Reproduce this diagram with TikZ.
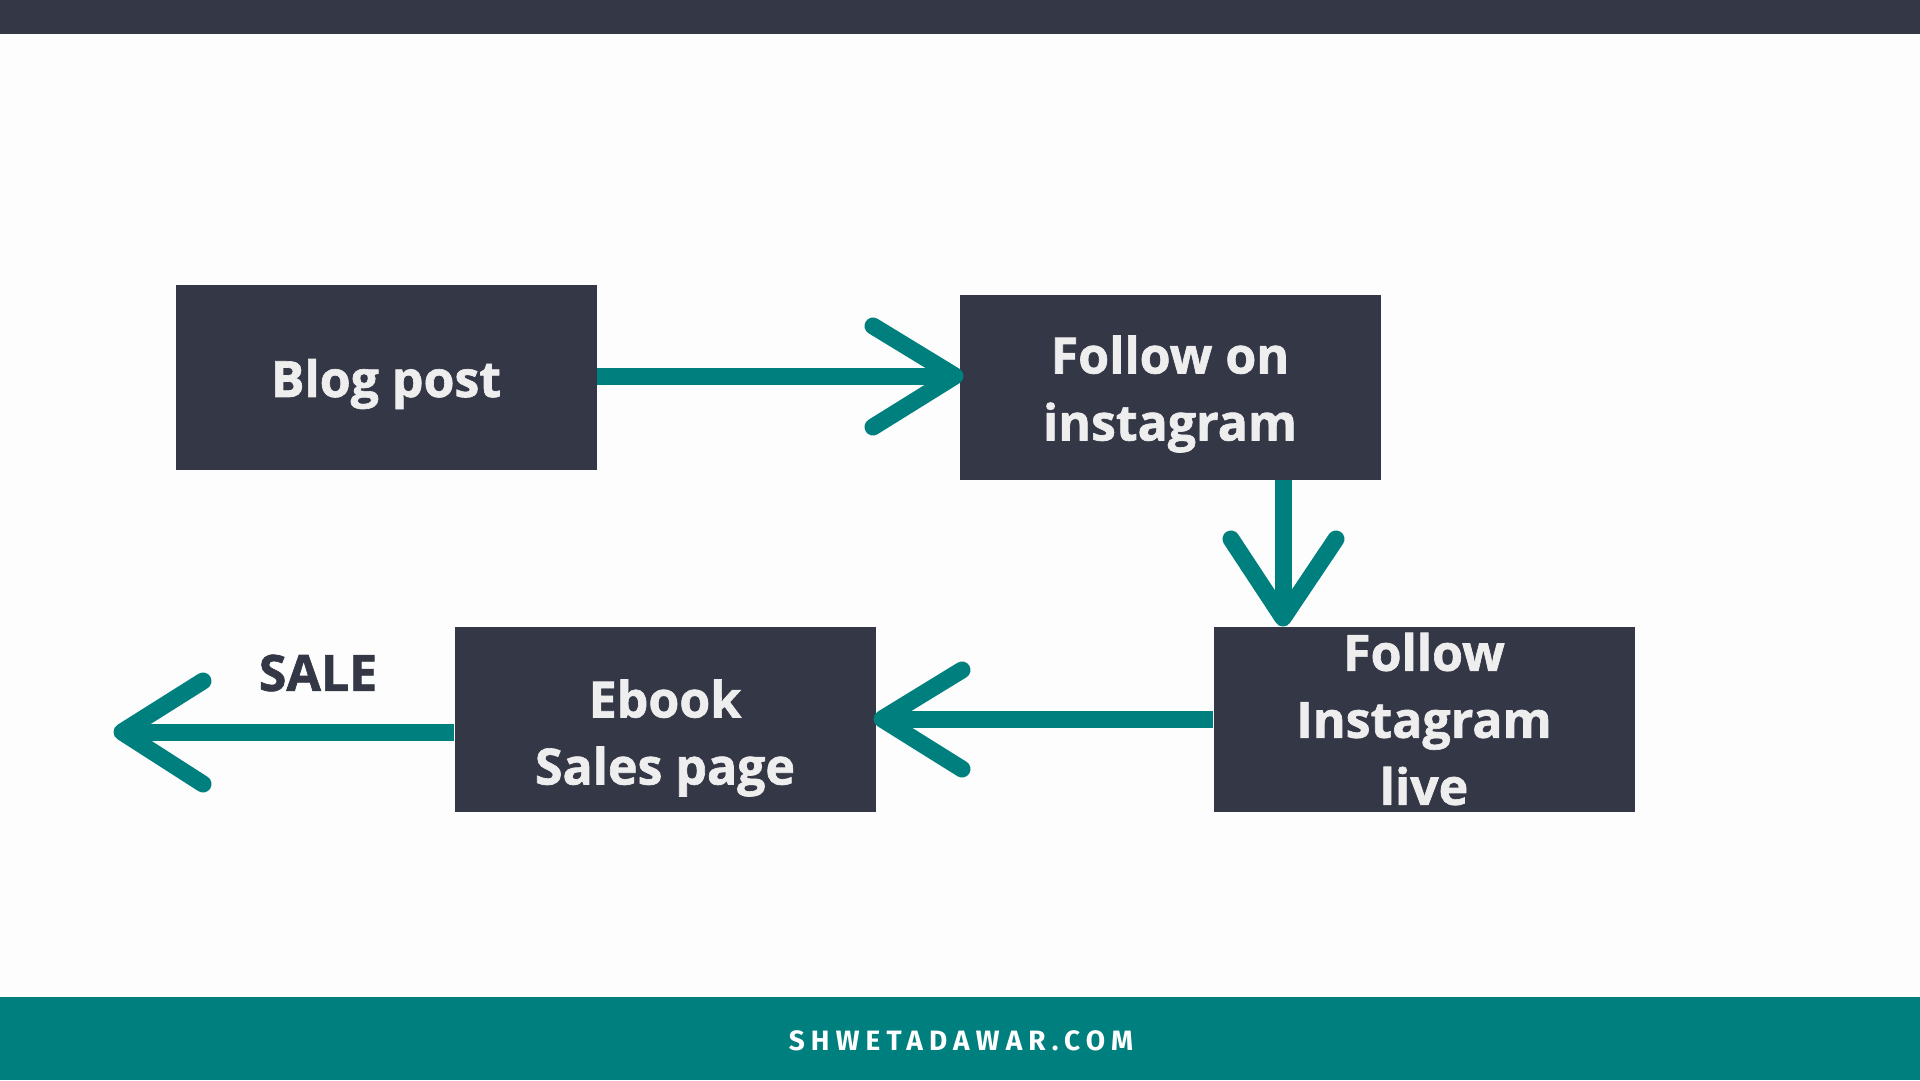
\documentclass[tikz,border=0pt]{standalone}
\usepackage{fontspec}
\setmainfont{Open Sans}[BoldFeatures={FakeBold=1.3}]
\newfontfamily\footfont[LetterSpace=22]{Fira Sans}
\definecolor{slate}{HTML}{343746}
\definecolor{teal}{HTML}{007F7F}
\definecolor{paper}{HTML}{FDFDFD}
\definecolor{boxtxt}{HTML}{EEEEEE}
\tikzset{
  stepbox/.style={fill=slate, minimum width=421pt, minimum height=185pt, inner sep=0pt},
  boxtext/.style={text=boxtxt, font=\fontsize{50}{67}\selectfont\bfseries, align=center},
  shaft/.style={draw=teal, line width=17pt},
  barb/.style={draw=teal, line width=17pt, line cap=round, line join=round}
}
\begin{document}
\begin{tikzpicture}[x=1pt,y=-1pt]
     \useasboundingbox (0,0) rectangle (1920,1080);
     \fill [paper] (0,0) rectangle (1920,1080);
     \fill [slate] (0,0) rectangle (1920,34);
     \fill [teal] (0,997) rectangle (1920,1080);
     \node[text=white, font=\footfont\fontsize{28}{30}\selectfont\bfseries] (site) at (961,1041) {SHWETADAWAR.COM};

     % boxes
     \node[stepbox, label={[boxtext, yshift=-7pt]center:{Blog post}}] (blog) at (386,377) {};
     \node[stepbox, label={[boxtext, yshift=-7pt]center:{Follow on\\instagram}}] (follow) at (1170,387) {};
     \node[stepbox, label={[boxtext]center:{Follow\\Instagram\\live}}] (live) at (1424,719) {};
     \node[stepbox, label={[boxtext, yshift=-19pt]center:{Ebook\\Sales page}}] (ebook) at (665,719) {};
     \node[text=slate, font=\fontsize{50}{67}\selectfont\bfseries] (sale) at (318,673) {SALE};

     % arrows
     \coordinate (t1) at (955,376);
     \draw[shaft] (blog.east |- t1) -- (t1);
     \draw[barb] (873,326) -- (t1) -- (873,427);

     \coordinate (t2) at (1283,618);
     \draw[shaft] (follow.south -| t2) -- (t2);
     \draw[barb] (1231,539) -- (t2) -- (1336,539);

     \coordinate (t3) at (882,719);
     \draw[shaft] (live.west) -- (t3);
     \draw[barb] (962,670) -- (t3) -- (962,769);

     \coordinate (t4) at (122,732);
     \draw[shaft] (ebook.west |- t4) -- (t4);
     \draw[barb] (203,681) -- (t4) -- (203,784);
\end{tikzpicture}
\end{document}
